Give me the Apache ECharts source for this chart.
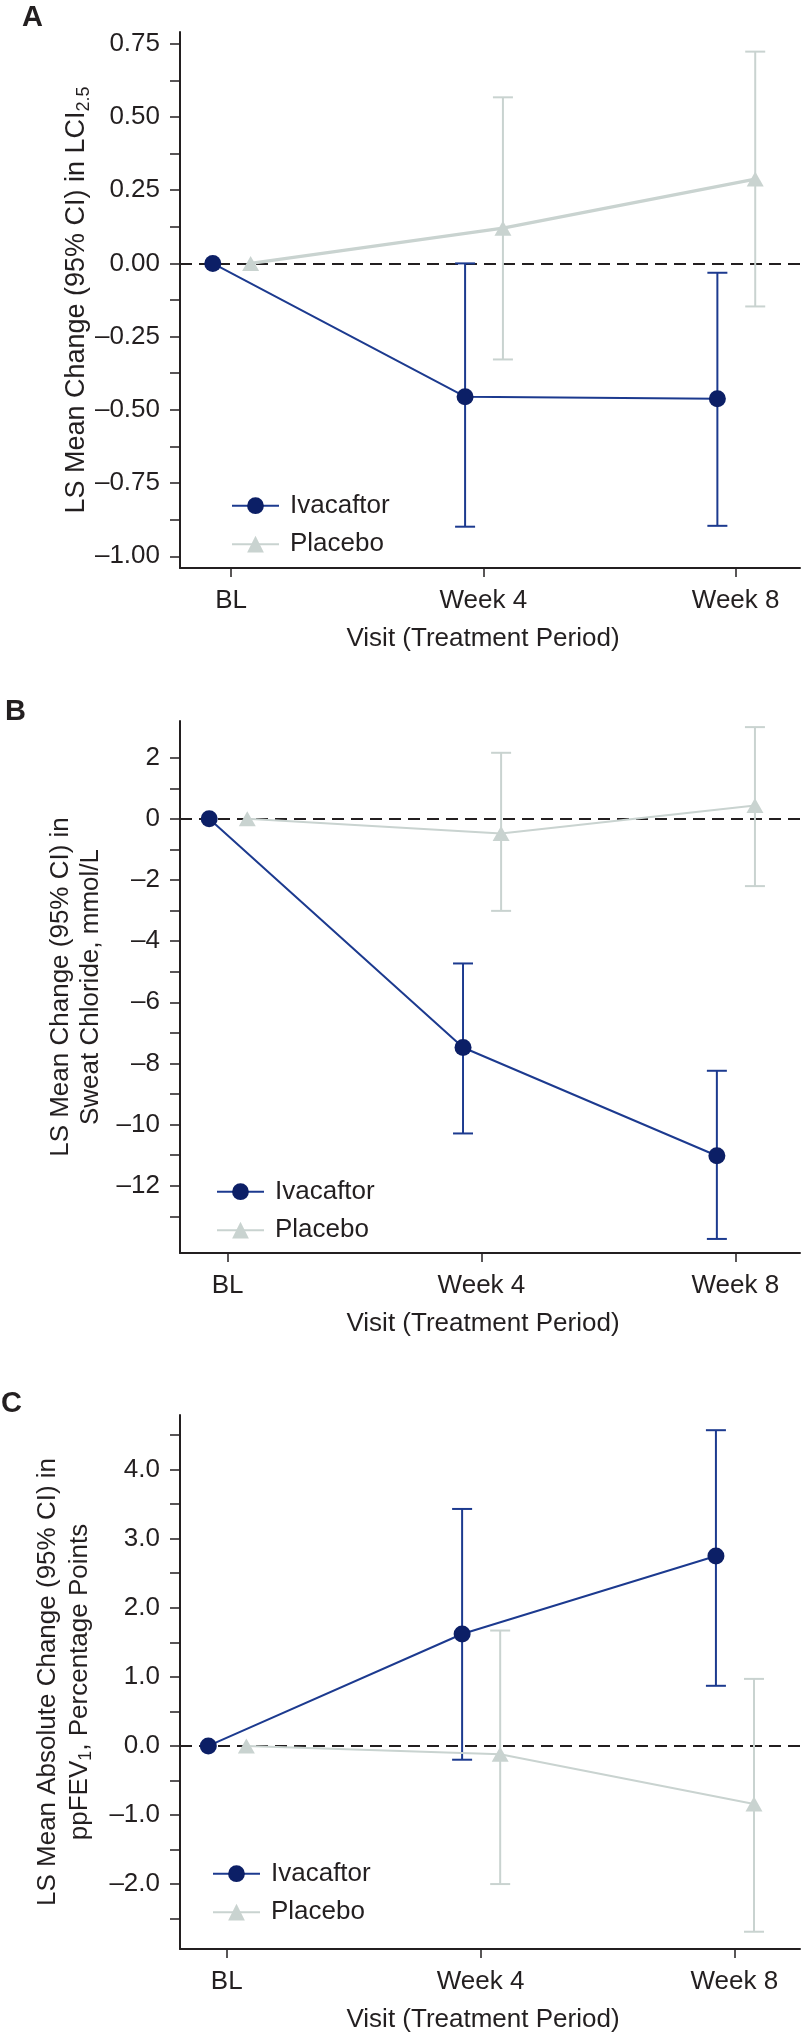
<!DOCTYPE html>
<html>
<head>
<meta charset="utf-8">
<script src="https://cdn.jsdelivr.net/npm/echarts@6/dist/echarts.min.js"></script>
<style>
  html, body { margin: 0; padding: 0; background: #fff; }
  #chart { width: 801px; height: 2036px; }
</style>
</head>
<body>
<div id="chart"></div>
<script>
// visits, in weeks from baseline, and their labels
var visitWeeks = [0, 4, 8];
var visitLabels = ['BL', 'Week 4', 'Week 8'];

// A: LCI2.5
var aIvaMean = [0, -0.455, -0.462];
var aIvaLow = [null, -0.899, -0.896];
var aIvaHigh = [null, 0.0, -0.032];
var aPboMean = [0, 0.12, 0.288];
var aPboLow = [null, -0.328, -0.147];
var aPboHigh = [null, 0.567, 0.723];
var aTickLabels = [-1.0, -0.75, -0.5, -0.25, 0, 0.25, 0.5, 0.75];
var aMinorTicks = [-0.875, -0.625, -0.375, -0.125, 0.125, 0.375, 0.625];

// B: sweat chloride
var bIvaMean = [0, -7.48, -11.02];
var bIvaLow = [null, -10.29, -13.74];
var bIvaHigh = [null, -4.73, -8.24];
var bPboMean = [0, -0.48, 0.44];
var bPboLow = [null, -3.01, -2.2];
var bPboHigh = [null, 2.16, 3.0];
var bTickLabels = [-12, -10, -8, -6, -4, -2, 0, 2];
var bMinorTicks = [-13, -11, -9, -7, -5, -3, -1, 1];

// C: ppFEV1
var cIvaMean = [0, 1.62, 2.75];
var cIvaLow = [null, -0.2, 0.87];
var cIvaHigh = [null, 3.43, 4.57];
var cPboMean = [0, -0.12, -0.84];
var cPboLow = [null, -2.0, -2.69];
var cPboHigh = [null, 1.67, 0.97];
var cTickLabels = [-2, -1, 0, 1, 2, 3, 4];
var cMinorTicks = [-2.5, -1.5, -0.5, 0.5, 1.5, 2.5, 3.5, 4.5];

var FONT = '"Liberation Sans", Arial, Helvetica, sans-serif';
var INK = '#231f20';
var IVA_LINE = '#1c3a8f';
var IVA_DOT = '#0c1f66';
var PBO = '#c9d3d0';
var IVA_DODGE = -0.29;
var PBO_DODGE = 0.31;

var panels = [
  {
    letter: 'A', letterPos: [22, 3],
    grid: { top: 32, height: 536 },
    x: [-0.81, 9.02], y: [-1.04, 0.79],
    labels: aTickLabels, minor: aMinorTicks, digits: 2,
    iva: [aIvaMean, aIvaLow, aIvaHigh], pbo: [aPboMean, aPboLow, aPboHigh],
    pboWidth: 3.3,
    yName: '{m|LS Mean Change (95% CI) in LCI}{s|2.5}', yLineHeight: 33, yGap: 86.5,
    legend: [231, 492.7]
  },
  {
    letter: 'B', letterPos: [5, 697],
    grid: { top: 721, height: 532 },
    x: [-0.75, 9.02], y: [-14.2, 3.2],
    labels: bTickLabels, minor: bMinorTicks, digits: 0,
    iva: [bIvaMean, bIvaLow, bIvaHigh], pbo: [bPboMean, bPboLow, bPboHigh],
    pboWidth: 2,
    yName: '{m|LS Mean Change (95% CI) in}\n{m|Sweat Chloride, mmol/L}', yLineHeight: 30, yGap: 74.5,
    legend: [216, 1178.7]
  },
  {
    letter: 'C', letterPos: [1, 1389],
    grid: { top: 1415, height: 534 },
    x: [-0.736, 9.035], y: [-2.94, 4.79],
    labels: cTickLabels, minor: cMinorTicks, digits: 1,
    iva: [cIvaMean, cIvaLow, cIvaHigh], pbo: [cPboMean, cPboLow, cPboHigh],
    pboWidth: 2,
    yName: '{m|LS Mean Absolute Change (95% CI) in}\n{m|ppFEV}{s|1}{m|, Percentage Points}', yLineHeight: 32, yGap: 84.5,
    legend: [212, 1860.7]
  }
];

function points(mean, dodge) {
  return visitWeeks.map(function (w, j) { return [w + dodge, mean[j]]; });
}

function bars(low, high, dodge) {
  var out = [];
  visitWeeks.forEach(function (w, j) {
    if (low[j] != null) out.push([w + dodge, low[j], high[j]]);
  });
  return out;
}

function errorBar(color) {
  return function (params, api) {
    var top = api.coord([api.value(0), api.value(2)]);
    var bot = api.coord([api.value(0), api.value(1)]);
    var w = 10;
    var st = { stroke: color, lineWidth: 2 };
    return {
      type: 'group',
      children: [
        { type: 'line', shape: { x1: top[0], y1: top[1], x2: bot[0], y2: bot[1] }, style: st },
        { type: 'line', shape: { x1: top[0] - w, y1: top[1], x2: top[0] + w, y2: top[1] }, style: st },
        { type: 'line', shape: { x1: bot[0] - w, y1: bot[1], x2: bot[0] + w, y2: bot[1] }, style: st }
      ]
    };
  };
}

function fmt(digits) {
  return function (v) {
    return (v < 0 ? '\u2013' : '') + Math.abs(v).toFixed(digits);
  };
}

var grids = [], xAxes = [], yAxes = [], series = [], titles = [], legends = [];

panels.forEach(function (p, i) {
  grids.push({ left: 180, right: 1, top: p.grid.top, height: p.grid.height,
    containLabel: false, outerBoundsMode: 'none' });

  titles.push({ text: p.letter, left: p.letterPos[0], top: p.letterPos[1], padding: 0,
    textStyle: { fontSize: 29, fontWeight: 'bold', color: INK, fontFamily: FONT, lineHeight: 30 } });

  xAxes.push({
    type: 'value', gridIndex: i, min: p.x[0], max: p.x[1],
    name: 'Visit (Treatment Period)', nameLocation: 'middle', nameGap: 58, nameMoveOverlap: false,
    nameTextStyle: { fontSize: 26, color: INK, fontFamily: FONT, padding: [0, 14, 0, 0] },
    axisLine: { onZero: false, lineStyle: { color: INK, width: 2 } },
    axisTick: { customValues: visitWeeks, length: 9, lineStyle: { color: INK, width: 1.5 } },
    axisLabel: { customValues: visitWeeks, margin: 20, fontSize: 26, color: INK, fontFamily: FONT,
      formatter: function (v) { return visitLabels[visitWeeks.indexOf(v)]; } },
    splitLine: { show: false }
  });

  yAxes.push({
    type: 'value', gridIndex: i, min: p.y[0], max: p.y[1],
    name: p.yName, nameLocation: 'middle', nameGap: p.yGap, nameMoveOverlap: false,
    nameTextStyle: {
      fontSize: 26, lineHeight: p.yLineHeight, color: INK, fontFamily: FONT,
      rich: {
        m: { fontSize: i === 0 ? 27 : 26, lineHeight: p.yLineHeight, color: INK, fontFamily: FONT },
        s: { fontSize: 18, lineHeight: 17, verticalAlign: 'bottom', color: INK, fontFamily: FONT }
      }
    },
    axisLine: { onZero: false, lineStyle: { color: INK, width: 2 } },
    axisTick: { customValues: p.labels.concat(p.minor), length: 10, lineStyle: { color: INK, width: 1.5 } },
    axisLabel: { customValues: p.labels, margin: 20, fontSize: 26, color: INK, fontFamily: FONT,
      formatter: fmt(p.digits) },
    splitLine: { show: false }
  });

  // mean lines first, so the legend picks them up by name
  series.push({
    type: 'line', name: 'Placebo', xAxisIndex: i, yAxisIndex: i, z: 3,
    data: points(p.pbo[0], PBO_DODGE),
    symbol: 'triangle', symbolSize: [17, 15],
    itemStyle: { color: PBO },
    lineStyle: { color: PBO, width: p.pboWidth },
    emphasis: { disabled: true }, silent: true
  });
  series.push({
    type: 'line', name: 'Ivacaftor', xAxisIndex: i, yAxisIndex: i, z: 4,
    data: points(p.iva[0], IVA_DODGE),
    symbol: 'circle', symbolSize: 17,
    itemStyle: { color: IVA_DOT },
    lineStyle: { color: IVA_LINE, width: 2 },
    emphasis: { disabled: true }, silent: true
  });
  series.push({
    type: 'custom', name: 'Placebo CI', xAxisIndex: i, yAxisIndex: i, z: 2,
    renderItem: errorBar(PBO), encode: { x: 0, y: [1, 2] },
    data: bars(p.pbo[1], p.pbo[2], PBO_DODGE), silent: true,
    markLine: {
      silent: true, symbol: 'none', z: 1, label: { show: false },
      lineStyle: { color: INK, type: [12, 7], width: 1.8 },
      data: [{ yAxis: 0 }]
    }
  });
  series.push({
    type: 'custom', name: 'Ivacaftor CI', xAxisIndex: i, yAxisIndex: i, z: 2,
    renderItem: errorBar(IVA_LINE), encode: { x: 0, y: [1, 2] },
    data: bars(p.iva[1], p.iva[2], IVA_DODGE), silent: true
  });

  legends.push({
    data: ['Ivacaftor', 'Placebo'], orient: 'vertical',
    left: p.legend[0], top: p.legend[1], padding: 0,
    itemWidth: 47, itemHeight: 21, itemGap: 12.5, selectedMode: false,
    lineStyle: { width: 2 },
    textStyle: { fontSize: 26, color: INK, fontFamily: FONT, padding: [0, 0, 0, 6] }
  });
});

var chart = echarts.init(document.getElementById('chart'), null, { renderer: 'canvas' });
chart.setOption({
  animation: false,
  backgroundColor: '#fff',
  title: titles,
  legend: legends,
  grid: grids,
  xAxis: xAxes,
  yAxis: yAxes,
  series: series
});
</script>
</body>
</html>
